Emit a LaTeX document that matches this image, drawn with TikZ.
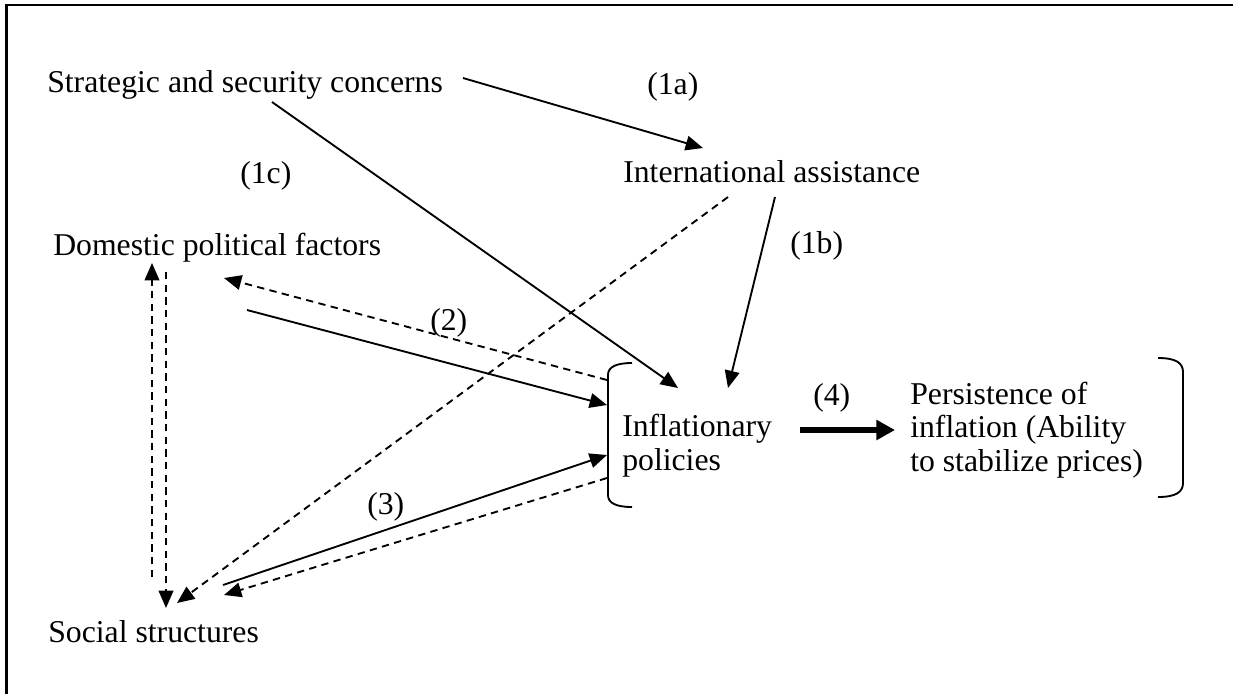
\documentclass[tikz,border=0pt]{standalone}
\usepackage{fontspec}
\setmainfont{Liberation Serif}
\usetikzlibrary{arrows.meta,calc}
\begin{document}
\begin{tikzpicture}[x=0.75pt,y=-0.75pt,
  lbl/.style={inner sep=0pt, anchor=base west, font=\fontsize{23.8pt}{25pt}\selectfont},
  box/.style={lbl, align=left},
  solidarrow/.style={line width=1.4pt, -{Triangle[length=13pt,width=11pt]}},
  dasharrow/.style={solidarrow, dash pattern=on 5.5pt off 4pt},
  bigarrow/.style={line width=4.5pt, -{Triangle[length=14pt,width=14.5pt]}},
  bracketline/.style={line width=1.4pt}]
\useasboundingbox (0,0) rectangle (1233,694);
\draw[line width=1.9pt] (6.5,694) -- (6.5,5) -- (1233,5);

% main nodes (multi-line nodes: base = last line)
\node[lbl] (strat) at (47,92) {Strategic and security concerns};
\node[lbl] (ia) at (623,182) {International assistance};
\node[lbl] (dom) at (53,255) {Domestic political factors};
\node[lbl] (soc) at (48,642) {Social structures};
\node[box] (infl) at (622,470) {Inflationary\\policies};
\node[box] (pers) at (910,471) {Persistence of\\inflation (Ability\\to stabilize prices)};

% labels
\node[lbl] (l1a) at (647,94) {(1a)};
\node[lbl] (l1b) at (790,253) {(1b)};
\node[lbl] (l1c) at (240,183) {(1c)};
\node[lbl] (l2) at (430,330) {(2)};
\node[lbl] (l3) at (367,514) {(3)};
\node[lbl] (l4) at (813,405) {(4)};

% brackets
\begin{scope}[shift={(infl.base west)}]
\draw[bracketline] (10,-107) .. controls (-6,-107) and (-14,-103) .. (-14,-95)
  -- (-14,25) .. controls (-14,33) and (-6,37) .. (10,37);
\end{scope}
\begin{scope}[shift={(pers.base west)}]
\draw[bracketline] (248,-113) .. controls (266,-113) and (273,-108) .. (273,-99)
  -- (273,12) .. controls (273,21) and (266,26) .. (248,26);
\end{scope}

% connectors
\draw[solidarrow] ($(strat.base west)+(416,-14)$) -- ($(ia.base west)+(80,-34)$);
\draw[solidarrow] ($(strat.base west)+(225,10)$) -- ($(infl.base west)+(56,-82)$);
\draw[solidarrow] ($(ia.base west)+(152,15)$) -- ($(infl.base west)+(106,-82)$);
\draw[dasharrow] ($(ia.base west)+(105,15)$) -- ($(soc.base west)+(129,-39)$);
\draw[dasharrow] ($(soc.base west)+(104,-65)$) -- ($(dom.base west)+(99,8)$);
\draw[dasharrow] ($(dom.base west)+(113,17)$) -- ($(soc.base west)+(118,-34)$);
\draw[dasharrow] ($(infl.base west)+(-15,-90)$) -- ($(dom.base west)+(171,23)$);
\draw[solidarrow] ($(dom.base west)+(194,55)$) -- ($(infl.base west)+(-15,-65)$);
\draw[solidarrow] ($(soc.base west)+(175,-57)$) -- ($(infl.base west)+(-15,-15)$);
\draw[dasharrow] ($(infl.base west)+(-15,8)$) -- ($(soc.base west)+(176,-47)$);
\draw[bigarrow] ($(infl.base west)+(178,-40)$) -- ($(pers.base west)+(-15,-41)$);
\end{tikzpicture}
\end{document}
